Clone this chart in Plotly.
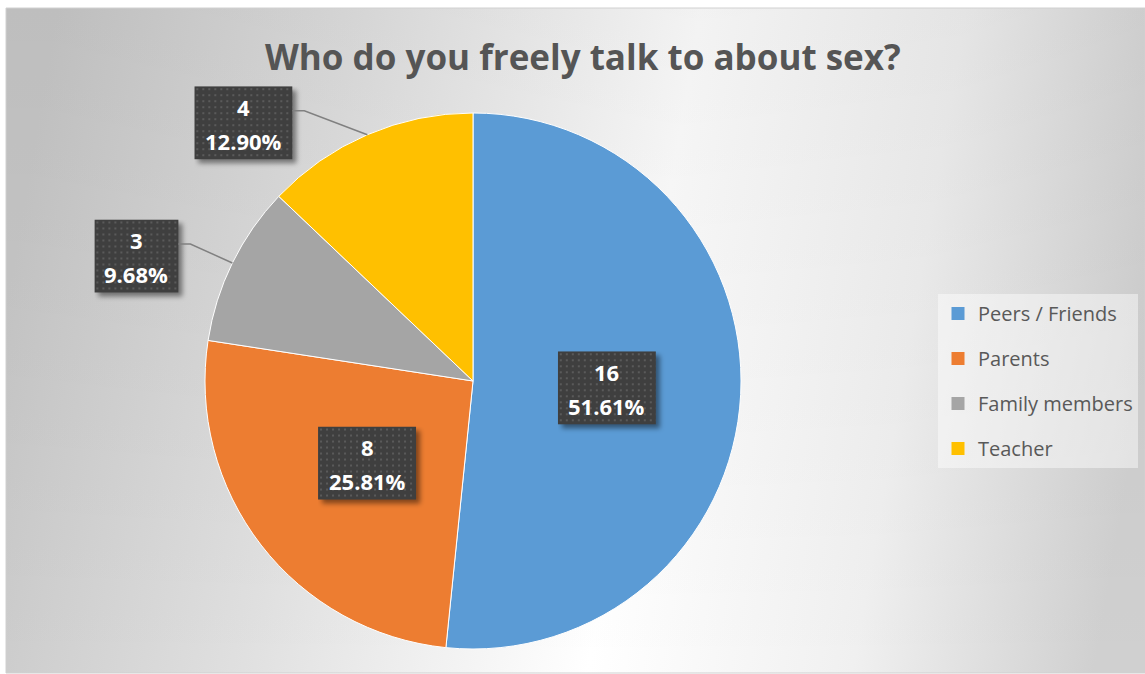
import base64
import math
import plotly.graph_objects as go

# ---------------- data ----------------
categories = ["Peers / Friends", "Parents", "Family members", "Teacher"]
counts = [16, 8, 3, 4]
colors = ["#5B9BD5", "#ED7D31", "#A5A5A5", "#FFC000"]
title_text = "Who do you freely talk to about sex?"

# ---------------- layout constants (pixels) ----------------
W, H = 1145, 674
CX, CY, R = 473, 381, 268          # pie centre / radius
AREA = (6, 8, 1145, 673)           # chart area box
INSIDE_FACTOR = 0.5                # inside label radial position
# label placement: "in" -> inside at INSIDE_FACTOR, else pixel offset from slice edge midpoint
label_place = ["in", "in", (-96, -7), (-124, -12)]
FONT = "Open Sans"


def px(x):
    return x / W


def py(y):
    return 1 - y / H


def svg_uri(svg):
    return "data:image/svg+xml;base64," + base64.b64encode(svg.encode()).decode()


total = sum(counts)
pcts = [c / total * 100 for c in counts]

fig = go.Figure()

# background gradient image
bg_svg = (
    '<svg xmlns="http://www.w3.org/2000/svg" width="1139" height="665" viewBox="0 0 1139 665" preserveAspectRatio="none">'
    '<defs><linearGradient id="g" x1="0" y1="0.45" x2="1" y2="0.55">'
    '<stop offset="0" stop-color="#c8c8c8"/>'
    '<stop offset="0.26" stop-color="#e0e0e0"/>'
    '<stop offset="0.56" stop-color="#ffffff"/>'
    '<stop offset="0.79" stop-color="#f0f0f0"/>'
    '<stop offset="1" stop-color="#d0d0d0"/>'
    '</linearGradient>'
    '<linearGradient id="v" x1="0" y1="0" x2="0" y2="1">'
    '<stop offset="0" stop-color="#000000" stop-opacity="0.05"/>'
    '<stop offset="1" stop-color="#000000" stop-opacity="0"/>'
    '</linearGradient></defs>'
    '<rect x="0" y="0" width="1139" height="665" fill="url(#g)"/>'
    '<rect x="0" y="0" width="1139" height="665" fill="url(#v)"/></svg>'
)
images = [dict(source=svg_uri(bg_svg), xref="paper", yref="paper",
               x=px(AREA[0]), y=py(AREA[1]), sizex=px(AREA[2] - AREA[0]), sizey=(AREA[3] - AREA[1]) / H,
               xanchor="left", yanchor="top", sizing="stretch", layer="below")]

# pie
fig.add_trace(go.Pie(
    labels=categories, values=counts, sort=False, direction="clockwise", rotation=0,
    marker=dict(colors=colors, line=dict(color="#ffffff", width=1)),
    textinfo="none", hoverinfo="skip", showlegend=False,
    domain=dict(x=[px(CX - R), px(CX + R)], y=[py(CY + R), py(CY - R)]),
))

# legend entries (one group per category for spacing)
for cat, col in zip(categories, colors):
    fig.add_trace(go.Scatter(
        x=[None], y=[None], mode="markers", name=cat, legendgroup=cat,
        marker=dict(symbol="square", size=13, color=col), hoverinfo="skip",
    ))

shapes = []
annotations = []

# chart area border
shapes.append(dict(type="rect", xref="paper", yref="paper",
                   x0=px(AREA[0]), x1=px(AREA[2]), y0=py(AREA[3]), y1=py(AREA[1]),
                   line=dict(color="#d0d0d0", width=1), fillcolor="rgba(0,0,0,0)", layer="below"))

# data labels
cum = 0.0
for i, (c, p) in enumerate(zip(counts, pcts)):
    a0 = cum / total * 360
    cum += c
    a1 = cum / total * 360
    mid = math.radians((a0 + a1) / 2)
    sx, sy = math.sin(mid), -math.cos(mid)
    ptxt = f"{p:.2f}%"
    bw, bh = 14 * len(ptxt) + 14, 73
    place = label_place[i]
    if place == "in":
        bx = CX + sx * R * INSIDE_FACTOR
        by = CY + sy * R * INSIDE_FACTOR
    else:
        ex, ey = CX + sx * R, CY + sy * R
        bx, by = ex + place[0], ey + place[1]
        right = bx + bw / 2
        elbow_x, elbow_y = right + 12, by - 12
        shapes.append(dict(type="path", xref="paper", yref="paper", layer="above",
                           path=f"M {px(right)},{py(elbow_y)} L {px(elbow_x)},{py(elbow_y)} L {px(ex)},{py(ey)}",
                           line=dict(color="#808080", width=1.5)))
    # box image with dotted pattern + shadow
    box_svg = (
        f'<svg xmlns="http://www.w3.org/2000/svg" width="{bw + 10}" height="{bh + 10}" viewBox="0 0 {bw + 10} {bh + 10}">'
        '<defs><filter id="f" x="-20%" y="-20%" width="150%" height="150%"><feGaussianBlur stdDeviation="2.5"/></filter>'
        '<pattern id="p" width="6" height="6" patternUnits="userSpaceOnUse">'
        '<rect width="6" height="6" fill="#3f3f3f"/><rect x="2" y="2" width="2" height="2" fill="#5a5a5a"/></pattern></defs>'
        f'<rect x="4" y="4" width="{bw}" height="{bh}" fill="rgba(0,0,0,0.45)" filter="url(#f)"/>'
        f'<rect x="0" y="0" width="{bw}" height="{bh}" fill="url(#p)"/></svg>'
    )
    x_left, y_top = bx - bw / 2, by - bh / 2
    images.append(dict(source=svg_uri(box_svg), xref="paper", yref="paper",
                       x=px(x_left), y=py(y_top), sizex=px(bw + 10), sizey=(bh + 10) / H,
                       xanchor="left", yanchor="top", sizing="stretch", layer="above"))
    annotations.append(dict(xref="paper", yref="paper", x=px(bx), y=py(by - 16), text=f"<b>{c}</b>",
                            showarrow=False, xanchor="center", yanchor="middle",
                            font=dict(family=FONT, size=22, color="#ffffff")))
    annotations.append(dict(xref="paper", yref="paper", x=px(bx), y=py(by + 18), text=f"<b>{ptxt}</b>",
                            showarrow=False, xanchor="center", yanchor="middle",
                            font=dict(family=FONT, size=22, color="#ffffff")))

# title
annotations.append(dict(xref="paper", yref="paper", x=px(583), y=py(57), text=f"<b>{title_text}</b>",
                        showarrow=False, xanchor="center", yanchor="middle",
                        font=dict(family=FONT, size=35, color="#555555")))

fig.update_layout(
    width=W, height=H, autosize=False,
    margin=dict(l=0, r=0, t=0, b=0, pad=0),
    paper_bgcolor="#ffffff", plot_bgcolor="rgba(0,0,0,0)",
    xaxis=dict(visible=False), yaxis=dict(visible=False),
    images=images, shapes=shapes, annotations=annotations,
    legend=dict(x=px(938), y=py(294), xanchor="left", yanchor="top",
                bgcolor="rgba(255,255,255,0.45)", borderwidth=0,
                font=dict(family=FONT, size=20, color="#595959"),
                tracegroupgap=16, itemwidth=30),
    showlegend=True,
)

fig.write_html("out.html")
